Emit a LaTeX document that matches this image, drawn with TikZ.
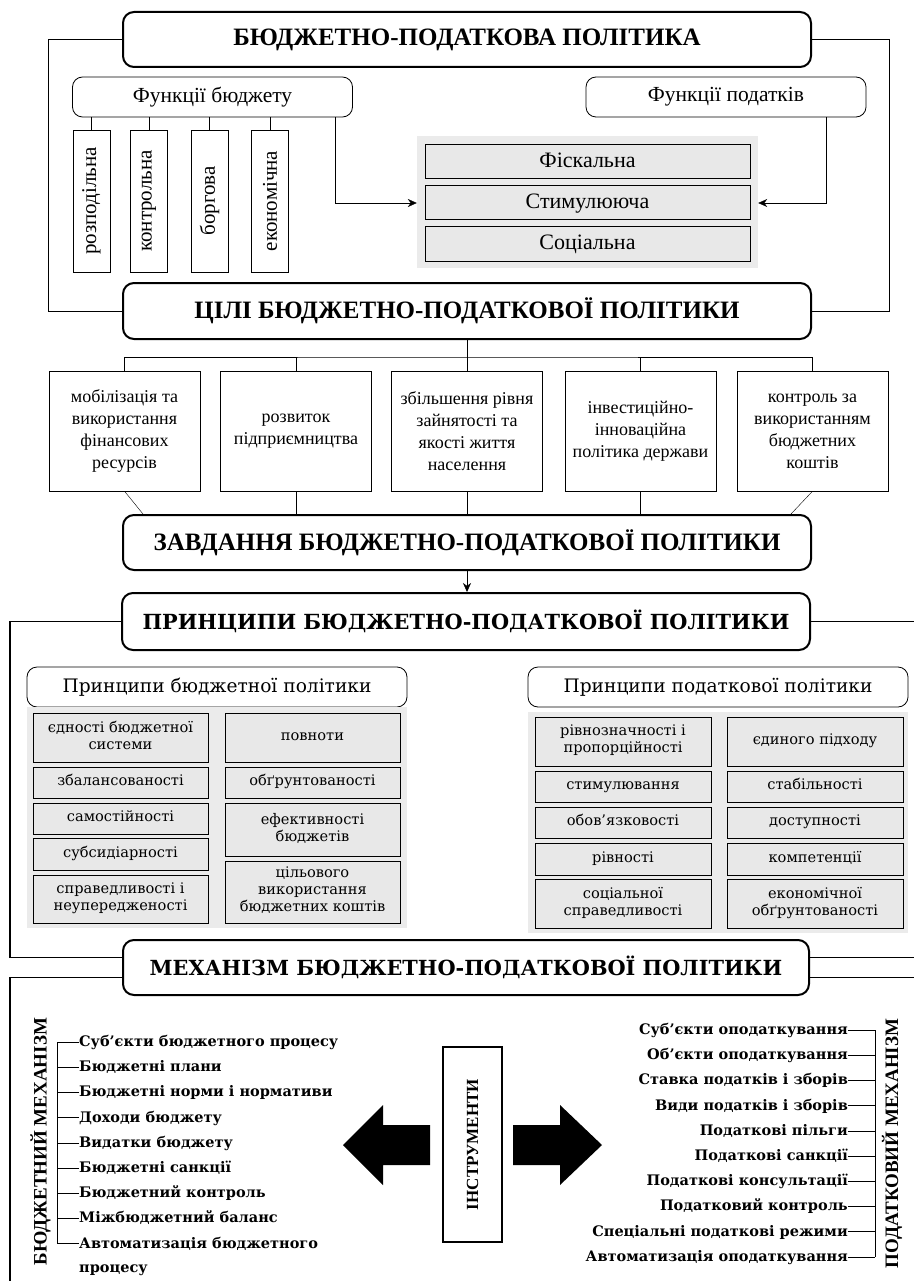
\documentclass[tikz,border=0pt]{standalone}
\usepackage{fontspec}
\setmainfont{Liberation Serif}
\newfontfamily\lowfont{DejaVu Serif}
\usetikzlibrary{arrows.meta}

\begin{document}
\begin{tikzpicture}[x=1pt,y=-1pt,>={Stealth[length=9pt,width=8pt]},
  head/.style={draw, line width=2pt, rounded corners=11pt, minimum width=688pt, minimum height=55pt, inner sep=0pt, font=\fontsize{25}{28}\selectfont\bfseries},
  lowhead/.style={head, minimum height=57pt, font=\lowfont\fontsize{20.8}{24}\selectfont\bfseries},
  group/.style={draw, line width=0.8pt, rounded corners=10pt, minimum width=280pt, minimum height=40pt, inner sep=0pt, font=\fontsize{21.5}{22}\selectfont},
  pgroup/.style={group, minimum width=380pt, font=\lowfont\fontsize{18.6}{22}\selectfont},
  kind/.style={draw, rotate=90, minimum width=142pt, minimum height=37pt, inner sep=0pt, font=\fontsize{21}{22}\selectfont},
  func/.style={draw, line width=1pt, fill=black!9, minimum width=325pt, minimum height=34pt, inner sep=0pt, text height=15pt, text depth=3pt, font=\fontsize{22}{22}\selectfont},
  goal/.style={draw, minimum width=151pt, minimum height=120pt, align=center, inner sep=0pt, font=\fontsize{18}{22}\selectfont},
  shade/.style={fill=black!8, inner sep=0pt},
  rule/.style={draw, fill=black!9, line width=1pt, align=center, inner sep=0pt, font=\lowfont\fontsize{14.6}{17}\selectfont, execute at begin node=\strut, execute at end node=\strut},
  bcol/.style={rule, minimum width=175pt},
  tcol/.style={rule, minimum width=176pt},
  item/.style={inner sep=0pt, font=\lowfont\bfseries\fontsize{14.5}{24.5}\selectfont},
  side/.style={rotate=90, inner sep=0pt, font=\fontsize{19}{20}\selectfont\bfseries},
  frame/.style={line width=1.6pt}]
\useasboundingbox (0,0) rectangle (914,1281);

% functions
\node[head] (bp) at (467,39.5) {БЮДЖЕТНО-ПОДАТКОВА ПОЛІТИКА};
\node[group] (fb) at (212.5,97) {Функції бюджету};
\node[group] (fp) at (726,97) {Функції податків};
\node[kind] (k1) at (91.5,201) {розподільна};
\node[kind] (k2) at (149,201) {контрольна};
\node[kind] (k3) at (209.5,201) {боргова};
\node[kind] (k4) at (270,201) {економічна};
\foreach \k in {k1,k2,k3,k4} \draw (\k) -- (\k |- fb.south);
\node[shade, minimum width=341pt, minimum height=132pt] (fs) at (587.5,202) {};
\node[func] (f1) at (587.5,161.5) {Фіскальна};
\node[func] (f2) at (587.5,203) {Стимулююча};
\node[func] (f3) at (587.5,244) {Соціальна};
\draw[->] ([xshift=122.5pt]fb.south) |- (fs.west |- f2);
\draw[->] ([xshift=100pt]fp.south) |- (fs.east |- f2);

% goals
\node[head, minimum height=56pt] (cili) at (467,311) {ЦІЛІ БЮДЖЕТНО-ПОДАТКОВОЇ ПОЛІТИКИ};
\draw (bp.west) -- ++(-74,0) |- (cili.west);
\draw (bp.east) -- ++(77,0) |- (cili.east);
\node[goal] (g1) at (124.5,431) {мобілізація та\\використання\\фінансових\\ресурсів};
\node[goal] (g2) at (296,431) {розвиток\\підприємництва};
\node[goal] (g3) at (467,431) {збільшення рівня\\зайнятості та\\якості життя\\населення};
\node[goal] (g4) at (640.5,431) {інвестиційно-\\інноваційна\\політика держави};
\node[goal] (g5) at (812.5,431) {контроль за\\використанням\\бюджетних\\коштів};
\draw (cili.south) -- ++(0,17) coordinate (gj);
\draw (g1.north) |- (gj) -| (g5.north);
\foreach \g in {g2,g3,g4} \draw (\g.north) -- (\g.north |- gj);

\node[head] (zavd) at (467,542.5) {ЗАВДАННЯ БЮДЖЕТНО-ПОДАТКОВОЇ ПОЛІТИКИ};
\draw (g1.south) -- ([xshift=21pt]zavd.north west);
\draw (g5.south) -- ([xshift=-21pt]zavd.north east);
\foreach \g in {g2,g3,g4} \draw (\g.south) -- (\g.south |- zavd.north);

% principles
\node[lowhead] (prin) at (466,621.5) {ПРИНЦИПИ БЮДЖЕТНО-ПОДАТКОВОЇ ПОЛІТИКИ};
\draw[->] (zavd.south) -- (zavd.south |- prin.north);

\node[pgroup] (pb) at (217,687) {Принципи бюджетної політики};
\node[shade, minimum width=380pt, minimum height=221pt] (pbs) at (217,817.5) {};
\node[bcol, minimum height=49pt] (b1) at (120.5,737.5) {єдності бюджетної\\системи};
\node[bcol, minimum height=31pt] (b2) at (120.5,782.5) {збалансованості};
\node[bcol, minimum height=31pt] (b3) at (120.5,818.5) {самостійності};
\node[bcol, minimum height=32pt] (b4) at (120.5,854) {субсидіарності};
\node[bcol, minimum height=48pt] (b5) at (120.5,899) {справедливості і\\неупередженості};
\node[bcol, minimum height=49pt] (b6) at (312.5,737.5) {повноти};
\node[bcol, minimum height=31pt] (b7) at (312.5,782.5) {обґрунтованості};
\node[bcol, minimum height=53pt] (b8) at (312.5,829.5) {ефективності\\бюджетів};
\node[bcol, minimum height=62pt] (b9) at (312.5,892) {цільового\\використання\\бюджетних коштів};

\node[pgroup] (pt) at (718,687) {Принципи податкової політики};
\node[shade, minimum width=380pt, minimum height=221pt] (pts) at (718,822.5) {};
\node[tcol, minimum height=49pt] (t1) at (623,741.5) {рівнозначності і\\пропорційності};
\node[tcol, minimum height=31pt] (t2) at (623,786.5) {стимулювання};
\node[tcol, minimum height=31pt] (t3) at (623,822.5) {обов’язковості};
\node[tcol, minimum height=32pt] (t4) at (623,859) {рівності};
\node[tcol, minimum height=49pt] (t5) at (623,903.5) {соціальної\\справедливості};
\node[tcol, minimum height=49pt] (t6) at (815,741.5) {єдиного підходу};
\node[tcol, minimum height=31pt] (t7) at (815,786.5) {стабільності};
\node[tcol, minimum height=31pt] (t8) at (815,822.5) {доступності};
\node[tcol, minimum height=32pt] (t9) at (815,859) {компетенції};
\node[tcol, minimum height=49pt] (t10) at (815,903.5) {економічної\\обґрунтованості};

% mechanism
\node[lowhead, minimum width=686pt, minimum height=55pt] (mech) at (466,967.5) {МЕХАНІЗМ БЮДЖЕТНО-ПОДАТКОВОЇ ПОЛІТИКИ};
\coordinate (lft) at (10,1281);
\coordinate (rgt) at (914,1281);
\coordinate (mu) at ([yshift=10pt]mech.west);
\coordinate (md) at ([yshift=-10pt]mech.west);
\coordinate (mue) at ([yshift=10pt]mech.east);
\coordinate (mde) at ([yshift=-10pt]mech.east);
\draw[frame] (prin.west) -| (lft |- mu) -- (mu);
\draw[frame] (md) -| (lft);
\draw[frame] (prin.east) -- (prin.east -| rgt);
\draw[frame] (mue) -- (mue -| rgt);
\draw[frame] (mde) -- (mde -| rgt);

\node[side] (bm) at (40.5,1141.5) {БЮДЖЕТНИЙ МЕХАНІЗМ};
\foreach \txt [count=\i] in {Суб’єкти бюджетного процесу, Бюджетні плани, Бюджетні норми і нормативи, Доходи бюджету, Видатки бюджету, Бюджетні санкції, Бюджетний контроль, Міжбюджетний баланс}
  \node[item, anchor=base west] (bi\i) at (79,1021.3+25.2*\i) {\txt};
\node[item, anchor=base west] (bi9) at (79,1248.1) {\parbox[t]{260pt}{Автоматизація бюджетного\\процесу}};
\foreach \i in {1,...,9} \draw ([yshift=4.5pt]bi\i.base west) -- ++(-22,0) coordinate (bt\i);
\draw (bt1) -- (bt9);

\node[side] (pm) at (892,1143.5) {ПОДАТКОВИЙ МЕХАНІЗМ};
\foreach \txt [count=\i] in {Суб’єкти оподаткування, Об’єкти оподаткування, Ставка податків і зборів, Види податків і зборів, Податкові пільги, Податкові санкції, Податкові консультації, Податковий контроль, Спеціальні податкові режими, Автоматизація оподаткування}
  \node[item, anchor=base east] (ti\i) at (848,1009.3+25.2*\i) {\txt};
\foreach \i in {1,...,10} \draw ([yshift=4.5pt]ti\i.base east) -- ++(27,0) coordinate (tt\i);
\draw (tt1) -- (tt10);

\node[draw, line width=1.2pt, rotate=90, minimum width=195pt, minimum height=59pt, inner sep=0pt, font=\fontsize{17}{18}\selectfont\bfseries] (instr) at (472.5,1144.5) {ІНСТРУМЕНТИ};
\fill (343,1145) -- (383,1105) -- (383,1125) -- (430,1125) -- (430,1165) -- (383,1165) -- (383,1185) -- cycle;
\fill (602,1145) -- (560,1105) -- (560,1125) -- (513,1125) -- (513,1165) -- (560,1165) -- (560,1185) -- cycle;
\end{tikzpicture}
\end{document}
